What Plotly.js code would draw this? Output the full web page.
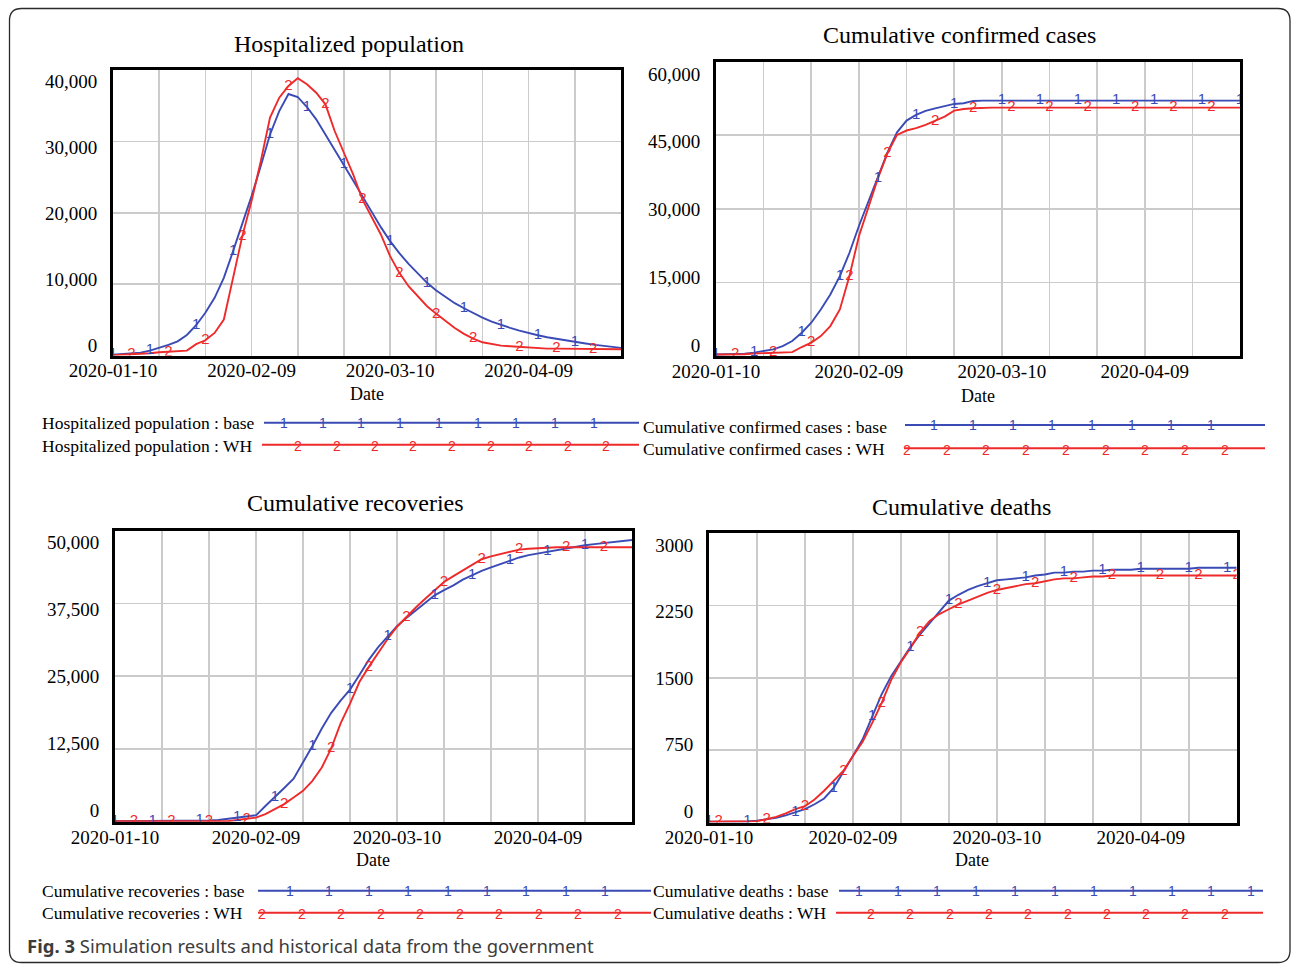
<!DOCTYPE html>
<html>
<head>
<meta charset="utf-8">
<script src="https://cdn.plot.ly/plotly-3.0.1.min.js"></script>
<style>html,body{margin:0;padding:0;background:#fff;}#chart{width:1292px;height:964px;}</style>
</head>
<body>
<div id="chart"></div>
<script>
// ---------------- DATA ----------------
// days since 2020-01-10
const days = [0,2,4,6,8,10,12,14,16,18,20,22,24,26,28,30,32,34,36,38,40,42,44,46,48,50,52,54,56,58,60,62,64,66,68,70,72,74,76,78,80,82,84,86,88,90,92,94,96,98,100,102,104,106,108,110];
const dateTickVals = [0,10,20,30,40,50,60,70,80,90,100,110];
const dateTickLabels = ['2020-01-10','','','2020-02-09','','','2020-03-10','','','2020-04-09','',''];

const hospBase = [140,200,300,420,700,1080,1500,2000,2900,4260,6000,8100,10900,14640,18400,22360,26570,31000,34290,36680,36260,34850,33120,31020,28910,26810,24560,22360,20160,18010,16050,14360,12870,11460,10200,9120,8190,7350,6640,5940,5330,4770,4300,3880,3510,3130,2850,2570,2340,2110,1920,1730,1540,1400,1220,1080];
const hospWH = [50,100,150,250,330,470,520,600,700,1600,2150,3180,5050,10900,16750,21660,27270,33360,36160,37800,38880,38040,36860,35230,31490,28440,25400,21890,19320,16980,13940,11600,9730,8330,6920,5850,4820,3880,3040,2390,1870,1640,1400,1310,1220,1120,1030,980,980,980,940,940,890,890,890,890];

const confBase = [300,300,300,450,700,1000,1360,2000,3050,4750,6780,9490,12540,16270,21000,26500,31500,36300,41500,45600,48000,49150,49970,50500,50980,51390,51530,52000,52070,52070,52070,52070,52070,52070,52070,52070,52070,52070,52070,52070,52070,52070,52070,52070,52070,52070,52070,52070,52070,52070,52070,52070,52070,52070,52070,52070];
const confWH = [300,300,300,350,500,600,680,700,800,1830,2710,4070,6100,9490,16270,24400,30170,36270,41360,45080,45970,46440,47120,47930,48810,50030,50370,50500,50640,50640,50640,50640,50640,50640,50640,50640,50640,50640,50640,50640,50640,50640,50640,50640,50640,50640,50640,50640,50640,50640,50640,50640,50640,50640,50640,50640];

const recBase = [100,100,100,100,100,100,100,120,150,180,220,290,510,740,910,1100,2700,4200,5800,7400,10170,13000,16000,18700,20800,22700,25200,27800,30000,31800,33600,35000,36300,37700,38900,39800,40600,41600,42400,43100,43700,44300,44900,45400,45800,46100,46400,46650,46900,47200,47500,47700,47900,48100,48300,48400];
const recWH = [100,100,100,100,100,100,100,100,100,100,100,100,100,300,500,700,1300,2200,3030,4170,5310,7030,9310,12600,16900,20300,24000,26600,29000,31400,33500,35200,36800,38300,39800,41200,42200,43200,44100,45100,45600,46000,46400,46750,46900,47000,47050,47150,47150,47150,47150,47150,47150,47150,47150,47150];

const deathBase = [10,10,10,10,12,20,35,50,75,105,140,190,250,360,520,690,860,1100,1330,1520,1670,1820,1950,2070,2190,2300,2360,2410,2450,2480,2510,2520,2530,2540,2560,2570,2590,2590,2600,2600,2610,2610,2620,2620,2620,2630,2630,2630,2630,2630,2630,2640,2640,2640,2640,2640];
const deathWH = [10,10,10,10,10,15,35,60,95,140,170,240,330,430,535,690,835,1030,1240,1480,1660,1810,1970,2090,2160,2210,2260,2300,2340,2380,2410,2430,2450,2470,2480,2500,2520,2530,2530,2540,2550,2550,2560,2560,2560,2560,2560,2560,2560,2560,2560,2560,2560,2560,2560,2560];

const hospTicks = [0,10000,20000,30000,40000];
const hospTickText = ['0','10,000','20,000','30,000','40,000'];
const confTicks = [0,15000,30000,45000,60000];
const confTickText = ['0','15,000','30,000','45,000','60,000'];
const recTicks = [0,12500,25000,37500,50000];
const recTickText = ['0','12,500','25,000','37,500','50,000'];
const deathTicks = [0,750,1500,2250,3000];
const deathTickText = ['0','750','1500','2250','3000'];

const titles = ['Hospitalized population','Cumulative confirmed cases','Cumulative recoveries','Cumulative deaths'];
const legendBase = ['Hospitalized population : base','Cumulative confirmed cases : base','Cumulative recoveries : base','Cumulative deaths : base'];
const legendWH = ['Hospitalized population : WH','Cumulative confirmed cases : WH','Cumulative recoveries : WH','Cumulative deaths : WH'];

// ---------------- LAYOUT HELPERS ----------------
const W = 1292, H = 964;
const fx = x => x / W, fy = y => 1 - y / H;
const SERIF = 'Liberation Serif, Times New Roman, serif';
const DIGIT = 'Liberation Sans, Arial, sans-serif';
const BLUE = '#3a4bb5', RED = '#ee2a2a', GRID = '#cbcbcb';

const panels = [
  {series:[hospBase,hospWH], ticks:hospTicks, tickText:hospTickText, vmax:40000,
   box:{l:113,r:621,t:70.3,b:355.6}, labTop:81.5, labBot:345, titleXY:[349,44], dateXY:[367,394],
   leg:{x:40, by:423, wy:445.5, bl:[264,639,422.7], rl:[262,639,444.8], bd:[284,38.7,9], rd:[298,38.5,9]},
   mk:{step:8.37, b0:0.5, r0:3.6, lim:106}},
  {series:[confBase,confWH], ticks:confTicks, tickText:confTickText, vmax:60000,
   box:{l:716,r:1240,t:61.7,b:356}, labTop:74, labBot:345, titleXY:[959,35], dateXY:[978,396],
   leg:{x:641, by:426.5, wy:449, bl:[905,1265,425], rl:[904,1265,448.3], bd:[933.6,39.6,8], rd:[907,39.7,9]},
   mk:{step:8.37, b0:0.6, r0:3.4, lim:110}},
  {series:[recBase,recWH], ticks:recTicks, tickText:recTickText, vmax:50000,
   box:{l:115,r:632,t:530.7,b:821.7}, labTop:542.7, labBot:810, titleXY:[355,503], dateXY:[373,860],
   leg:{x:40, by:890.5, wy:912.5, bl:[258,651,890.7], rl:[258,651,912.7], bd:[290,39.4,9], rd:[262,39.5,10]},
   mk:{step:8.37, b0:0.4, r0:3.2, lim:106}},
  {series:[deathBase,deathWH], ticks:deathTicks, tickText:deathTickText, vmax:3000,
   box:{l:709,r:1236.7,t:533,b:822.6}, labTop:545, labBot:811, titleXY:[961.5,507], dateXY:[972,860],
   leg:{x:651, by:890.5, wy:912.5, bl:[839,1263,890.7], rl:[836,1263,912.7], bd:[858.6,39.2,11], rd:[871,39.3,10]},
   mk:{step:8.2, b0:0.7, r0:2.9, lim:110}}
];

function nearestIdx(d){
  let best = 0;
  for (let i = 0; i < days.length; i++) if (Math.abs(days[i]-d) < Math.abs(days[best]-d)) best = i;
  return best;
}
function markerTrace(vals, start, step, lim, digit, color, xa, ya){
  const xs = [], ys = [], ts = [];
  for (let d = start; d <= lim + 1e-9; d += step){ const i = nearestIdx(d); xs.push(days[i]); ys.push(vals[i]); ts.push(digit); }
  return {type:'scatter', mode:'text', x:xs, y:ys, text:ts, textposition:'middle center',
          textfont:{family:DIGIT, size:15, color:color}, xaxis:xa, yaxis:ya, hoverinfo:'skip', showlegend:false};
}

const data = [];
const layout = {
  width:W, height:H, margin:{l:0,r:0,t:0,b:0}, paper_bgcolor:'#fff', plot_bgcolor:'#fff',
  showlegend:false, annotations:[], shapes:[], font:{family:SERIF, color:'#000'}
};

panels.forEach((p, k) => {
  const n = k + 1;
  const xa = n === 1 ? 'x' : 'x' + n, ya = n === 1 ? 'y' : 'y' + n, yl = 'y' + (n + 4);
  const xKey = n === 1 ? 'xaxis' : 'xaxis' + n, yKey = n === 1 ? 'yaxis' : 'yaxis' + n, ylKey = 'yaxis' + (n + 4);
  const [base, wh] = p.series;

  data.push({type:'scatter', mode:'lines', x:days, y:base, line:{color:BLUE, width:1.9}, xaxis:xa, yaxis:ya, hoverinfo:'skip', showlegend:false});
  data.push({type:'scatter', mode:'lines', x:days, y:wh, line:{color:RED, width:1.9}, xaxis:xa, yaxis:ya, hoverinfo:'skip', showlegend:false});
  data.push(markerTrace(base, p.mk.b0, p.mk.step, p.mk.lim, '1', BLUE, xa, ya));
  data.push(markerTrace(wh, p.mk.r0, p.mk.step, p.mk.lim, '2', RED, xa, ya));
  data.push({type:'scatter', mode:'markers', x:[null], y:[null], xaxis:xa, yaxis:yl, hoverinfo:'skip', showlegend:false});

  layout[xKey] = {domain:[fx(p.box.l), fx(p.box.r)], anchor:ya, range:[0,110], tickmode:'array',
    tickvals:dateTickVals, ticktext:dateTickLabels, showgrid:true, gridcolor:GRID, gridwidth:1.6,
    zeroline:false, showline:true, mirror:true, linecolor:'#000', linewidth:3,
    ticks:'', ticklabelstandoff:-4, tickfont:{family:SERIF, size:19, color:'#000'}, fixedrange:true};
  layout[yKey] = {domain:[fy(p.box.b), fy(p.box.t)], anchor:xa, range:[0,p.vmax], tickmode:'array',
    tickvals:p.ticks, showticklabels:false, showgrid:true, gridcolor:GRID, gridwidth:1.6,
    zeroline:false, showline:true, mirror:true, linecolor:'#000', linewidth:3, ticks:'', fixedrange:true};
  const h = p.box.b - p.box.t;
  const f0 = (p.box.b - p.labBot) / h, f1 = (p.box.b - p.labTop) / h;
  const span = p.vmax / (f1 - f0), a = -f0 * span;
  layout[ylKey] = {overlaying:ya, anchor:xa, side:'left', range:[a, a + span], tickmode:'array',
    tickvals:p.ticks, ticktext:p.tickText, showgrid:false, zeroline:false, showline:false,
    ticks:'outside', ticklen:11, tickcolor:'rgba(0,0,0,0)', tickfont:{family:SERIF, size:19, color:'#000'}, fixedrange:true};

  // title and axis title
  layout.annotations.push({text:titles[k], xref:'paper', yref:'paper', x:fx(p.titleXY[0]), y:fy(p.titleXY[1]),
    xanchor:'center', yanchor:'middle', showarrow:false, font:{family:SERIF, size:24, color:'#000'}});
  layout.annotations.push({text:'Date', xref:'paper', yref:'paper', x:fx(p.dateXY[0]), y:fy(p.dateXY[1]),
    xanchor:'center', yanchor:'middle', showarrow:false, font:{family:SERIF, size:18, color:'#000'}});

  // custom legend
  const L = p.leg;
  layout.annotations.push({text:legendBase[k], xref:'paper', yref:'paper', x:fx(L.x), y:fy(L.by),
    xanchor:'left', yanchor:'middle', showarrow:false, font:{family:SERIF, size:17.5, color:'#000'}});
  layout.annotations.push({text:legendWH[k], xref:'paper', yref:'paper', x:fx(L.x), y:fy(L.wy),
    xanchor:'left', yanchor:'middle', showarrow:false, font:{family:SERIF, size:17.5, color:'#000'}});
  layout.shapes.push({type:'line', xref:'paper', yref:'paper', x0:fx(L.bl[0]), x1:fx(L.bl[1]), y0:fy(L.bl[2]), y1:fy(L.bl[2]), line:{color:BLUE, width:2}});
  layout.shapes.push({type:'line', xref:'paper', yref:'paper', x0:fx(L.rl[0]), x1:fx(L.rl[1]), y0:fy(L.rl[2]), y1:fy(L.rl[2]), line:{color:RED, width:2}});
  for (let i = 0; i < L.bd[2]; i++) layout.annotations.push({text:'1', xref:'paper', yref:'paper', x:fx(L.bd[0] + i*L.bd[1]), y:fy(L.bl[2]),
    xanchor:'center', yanchor:'middle', showarrow:false, font:{family:DIGIT, size:14, color:BLUE}});
  for (let i = 0; i < L.rd[2]; i++) layout.annotations.push({text:'2', xref:'paper', yref:'paper', x:fx(L.rd[0] + i*L.rd[1]), y:fy(L.rl[2] + 1.5),
    xanchor:'center', yanchor:'middle', showarrow:false, font:{family:DIGIT, size:14, color:RED}});
});

// caption
layout.annotations.push({text:'<b>Fig. 3</b> Simulation results and historical data from the government', xref:'paper', yref:'paper',
  x:fx(25), y:fy(945), xanchor:'left', yanchor:'middle', showarrow:false, font:{family:'Noto Sans, Open Sans, sans-serif', size:18.5, color:'#3c3c3c'}});

// rounded outer frame
(function(){
  const x0 = 9.5, y0 = 8.5, x1 = 1290, y1 = 962.5, r = 12;
  const P = (x, y) => fx(x) + ' ' + fy(y);
  const path = 'M ' + P(x0+r,y0) + ' L ' + P(x1-r,y0) + ' Q ' + P(x1,y0) + ' ' + P(x1,y0+r) +
    ' L ' + P(x1,y1-r) + ' Q ' + P(x1,y1) + ' ' + P(x1-r,y1) + ' L ' + P(x0+r,y1) + ' Q ' + P(x0,y1) + ' ' + P(x0,y1-r) +
    ' L ' + P(x0,y0+r) + ' Q ' + P(x0,y0) + ' ' + P(x0+r,y0) + ' Z';
  layout.shapes.push({type:'path', xref:'paper', yref:'paper', path:path, line:{color:'#2a2a2a', width:1.3}, layer:'above'});
})();

Plotly.newPlot('chart', data, layout, {displayModeBar:false, staticPlot:true});
</script>
</body>
</html>
